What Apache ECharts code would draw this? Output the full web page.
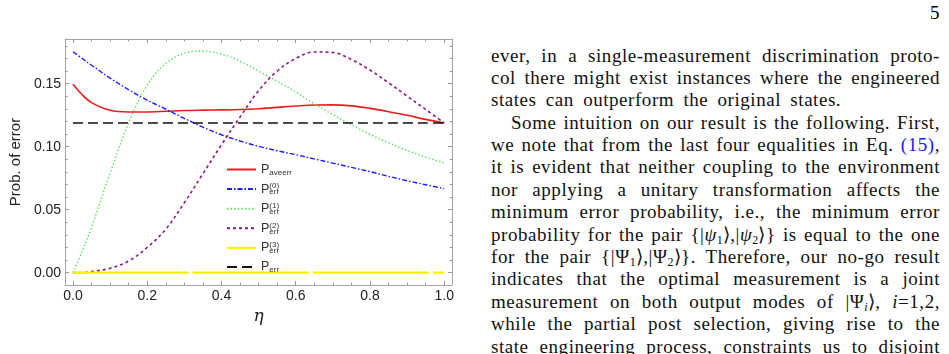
<!DOCTYPE html>
<html lang="en">
<head>
<meta charset="utf-8">
<title>Prob. of error</title>
<script src="https://cdn.jsdelivr.net/npm/echarts@6/dist/echarts.min.js"></script>
<style>
  html, body { margin: 0; padding: 0; background: #fff; }
  body { width: 949px; height: 354px; position: relative; overflow: hidden; }
  #chart { position: absolute; left: 0; top: 0; width: 480px; height: 354px; }
  .page { position: absolute; left: 491px; top: 0; width: 449px; font-family: "Liberation Serif", serif; font-size: 19px; letter-spacing: 0.55px; word-spacing: 1px; color: #111; }
  .ln { position: absolute; left: 0; width: 449px; height: 22px; line-height: 22px; white-space: nowrap; text-align: justify; text-align-last: justify; }
  .ln.last { text-align-last: left; word-spacing: 4px; }
  .ln.ind { left: 20px; width: 429px; }
  .num { position: absolute; left: 930px; top: 2px; font-family: "Liberation Serif", serif; font-size: 19px; }
  .ref { color: #2020ee; }
  sub { font-size: 12px; vertical-align: -3px; line-height: 0; letter-spacing: 0; }
</style>
</head>
<body>
<div id="chart"></div>
<div class="num">5</div>
<div class="page">
  <div class="ln" style="top:45px">ever, in a single-measurement discrimination proto-</div>
  <div class="ln" style="top:67px">col there might exist instances where the engineered</div>
  <div class="ln last" style="top:89px">states can outperform the original states.</div>
  <div class="ln ind" style="top:112px">Some intuition on our result is the following. First,</div>
  <div class="ln" style="top:134px">we note that from the last four equalities in Eq. <span class="ref">(15)</span>,</div>
  <div class="ln" style="top:156px">it is evident that neither coupling to the environment</div>
  <div class="ln" style="top:179px">nor applying a unitary transformation affects the</div>
  <div class="ln" style="top:201px">minimum error probability, i.e., the minimum error</div>
  <div class="ln" style="top:224px">probability for the pair {|<i>ψ</i><sub>1</sub>⟩,|<i>ψ</i><sub>2</sub>⟩} is equal to the one</div>
  <div class="ln" style="top:246px">for the pair {|Ψ<sub>1</sub>⟩,|Ψ<sub>2</sub>⟩}. Therefore, our no-go result</div>
  <div class="ln" style="top:268px">indicates that the optimal measurement is a joint</div>
  <div class="ln" style="top:291px">measurement on both output modes of |Ψ<sub><i>i</i></sub>⟩, <i>i</i>=1,2,</div>
  <div class="ln" style="top:313px">while the partial post selection, giving rise to the</div>
  <div class="ln" style="top:336px">state engineering process, constraints us to disjoint</div>
</div>
<script type="text/javascript">
// eta grid (shared by all curves)
var xs = [0, 0.025, 0.05, 0.1, 0.15, 0.2, 0.25, 0.3, 0.35, 0.4, 0.45, 0.5,
          0.55, 0.6, 0.65, 0.7, 0.75, 0.8, 0.85, 0.9, 0.95, 1];
var pAve = [0.1495, 0.1412, 0.1350, 0.1289, 0.1276, 0.1276, 0.1281, 0.1287, 0.1290, 0.1292, 0.1295, 0.1301,
            0.1312, 0.1323, 0.1331, 0.1332, 0.1324, 0.1304, 0.1278, 0.1249, 0.1217, 0.1188];
var pErr0 = [0.1754, 0.1700, 0.1647, 0.1545, 0.1452, 0.1370, 0.1298, 0.1225, 0.1155, 0.1095, 0.1045, 0.1003,
             0.0968, 0.0937, 0.0903, 0.0870, 0.0836, 0.0802, 0.0765, 0.0730, 0.0698, 0.0667];
var pErr1 = [0, 0.0170, 0.0360, 0.0790, 0.1190, 0.1490, 0.1660, 0.1742, 0.1758, 0.1735, 0.1680, 0.1600,
             0.1520, 0.1435, 0.1340, 0.1255, 0.1175, 0.1098, 0.1032, 0.0970, 0.0918, 0.0870];
var pErr2 = [0, 0.0001, 0.0008, 0.0035, 0.0092, 0.0200, 0.0345, 0.0555, 0.0785, 0.1015, 0.1235, 0.1445,
             0.1600, 0.1700, 0.1752, 0.1748, 0.1693, 0.1609, 0.1508, 0.1402, 0.1296, 0.1188];
var pErrMin = [0.1188, 0.1188, 0.1188, 0.1188, 0.1188, 0.1188, 0.1188, 0.1188, 0.1188, 0.1188, 0.1188, 0.1188,
               0.1188, 0.1188, 0.1188, 0.1188, 0.1188, 0.1188, 0.1188, 0.1188, 0.1188, 0.1188];
// P_err^(3) is zero, drawn with small sampling gaps
var yellowX = [0, 0.312, 0.317, 0.322, 0.636, 0.641, 0.646, 0.959, 0.964, 0.970, 1];
var yellowY = [0, 0, '-', 0, 0, '-', 0, 0, '-', 0, 0];

var xLabels = [0, 0.2, 0.4, 0.6, 0.8, 1.0];
var xMinor = [0, 0.05, 0.1, 0.15, 0.2, 0.25, 0.3, 0.35, 0.4, 0.45, 0.5, 0.55, 0.6, 0.65, 0.7, 0.75, 0.8, 0.85, 0.9, 0.95, 1];
var yLabels = [0, 0.05, 0.10, 0.15];
var yMinor = [0, 0.01, 0.02, 0.03, 0.04, 0.05, 0.06, 0.07, 0.08, 0.09, 0.10, 0.11, 0.12, 0.13, 0.14, 0.15, 0.16, 0.17, 0.18];

var legendText = {
    'Paveerr': '{p|P}{sb|aveerr}',
    'Perr0': '{p|P}{sp|(0)}{sb|err}',
    'Perr1': '{p|P}{sp|(1)}{sb|err}',
    'Perr2': '{p|P}{sp|(2)}{sb|err}',
    'Perr3': '{p|P}{sp|(3)}{sb|err}',
    'Perr': '{p|P}{sb|err}'
};

function pairs(x, y) {
    var out = [];
    for (var i = 0; i < x.length; i++) out.push([x[i], y[i]]);
    return out;
}

var XMIN = -0.021, XMAX = 1.021, YMIN = -0.0098, YMAX = 0.1855;
var frameCol = '#a4a4a4';
var font = '"Liberation Sans", Arial, sans-serif';

function xAx(pos, ticks, len, labels, line) {
    return {
        type: 'value', position: pos, min: XMIN, max: XMAX,
        splitLine: { show: false },
        axisLine: { show: line, onZero: false, lineStyle: { color: frameCol, width: 1 } },
        axisTick: { show: true, inside: true, length: len, customValues: ticks, lineStyle: { color: '#999' } },
        axisLabel: labels ? {
            show: true, customValues: xLabels, margin: 4, color: '#222', fontSize: 14, fontFamily: font,
            formatter: function (v) { return v.toFixed(1); }
        } : { show: false }
    };
}
function yAx(pos, ticks, len, labels, line) {
    return {
        type: 'value', position: pos, min: YMIN, max: YMAX,
        splitLine: { show: false },
        axisLine: { show: line, onZero: false, lineStyle: { color: frameCol, width: 1 } },
        axisTick: { show: true, inside: true, length: len, customValues: ticks, lineStyle: { color: '#999' } },
        axisLabel: labels ? {
            show: true, customValues: yLabels, margin: 4, color: '#222', fontSize: 14, fontFamily: font,
            formatter: function (v) { return v.toFixed(2); }
        } : { show: false }
    };
}

var chart = echarts.init(document.getElementById('chart'), null, { renderer: 'canvas' });

var xAxes = [xAx('bottom', xLabels, 4, true, true), xAx('bottom', xMinor, 2.5, false, false),
             xAx('top', xLabels, 4, false, true), xAx('top', xMinor, 2.5, false, false)];
xAxes[0].name = 'η';
xAxes[0].nameLocation = 'middle';
xAxes[0].nameGap = 18;
xAxes[0].nameTextStyle = { fontFamily: '"DejaVu Serif", serif', fontStyle: 'italic', fontSize: 17, color: '#222' };

var yAxes = [yAx('left', yLabels, 4, true, true), yAx('left', yMinor, 2.5, false, false),
             yAx('right', yLabels, 4, false, true), yAx('right', yMinor, 2.5, false, false)];
yAxes[0].name = 'Prob. of error';
yAxes[0].nameLocation = 'middle';
yAxes[0].nameGap = 39;
yAxes[0].nameTextStyle = { fontFamily: font, fontSize: 15, color: '#222' };

function line(name, data, color, width, type) {
    return {
        name: name, type: 'line', data: data, xAxisIndex: 0, yAxisIndex: 0,
        symbol: 'none', smooth: 0.35, animation: false,
        lineStyle: { color: color, width: width, type: type },
        itemStyle: { color: color }
    };
}

var option = {
    animation: false,
    grid: { left: 55, top: 39, width: 397, height: 246, containLabel: false },
    legend: {
        orient: 'vertical', left: 221, top: 158,
        itemWidth: 29, itemHeight: 14, itemGap: 5.6,
        itemStyle: { opacity: 0, borderWidth: 0 },
        data: ['Paveerr', 'Perr0', 'Perr1', 'Perr2', 'Perr3', 'Perr'],
        formatter: function (name) { return legendText[name]; },
        textStyle: {
            color: '#333', fontFamily: font,
            rich: {
                p: { fontSize: 12.5, lineHeight: 14, fontFamily: font, color: '#333' },
                sb: { fontSize: 8, verticalAlign: 'bottom', fontFamily: font, color: '#333' },
                sp: { fontSize: 8, width: 0, verticalAlign: 'top', fontFamily: font, color: '#333' }
            }
        }
    },
    xAxis: xAxes,
    yAxis: yAxes,
    series: [
        line('Paveerr', pairs(xs, pAve), '#ee1c1c', 1.6, 'solid'),
        line('Perr0', pairs(xs, pErr0), '#1c1cff', 1.4, [5, 2, 1.5, 2]),
        line('Perr1', pairs(xs, pErr1), '#44e044', 1.4, [1.3, 2.3]),
        line('Perr2', pairs(xs, pErr2), '#861a86', 1.6, [3, 3]),
        line('Perr3', pairs(yellowX, yellowY), '#f8f000', 2.2, 'solid'),
        line('Perr', pairs(xs, pErrMin), '#111111', 1.6, [10, 5])
    ]
};
option.series[4].smooth = false;
chart.setOption(option);
</script>
</body>
</html>
